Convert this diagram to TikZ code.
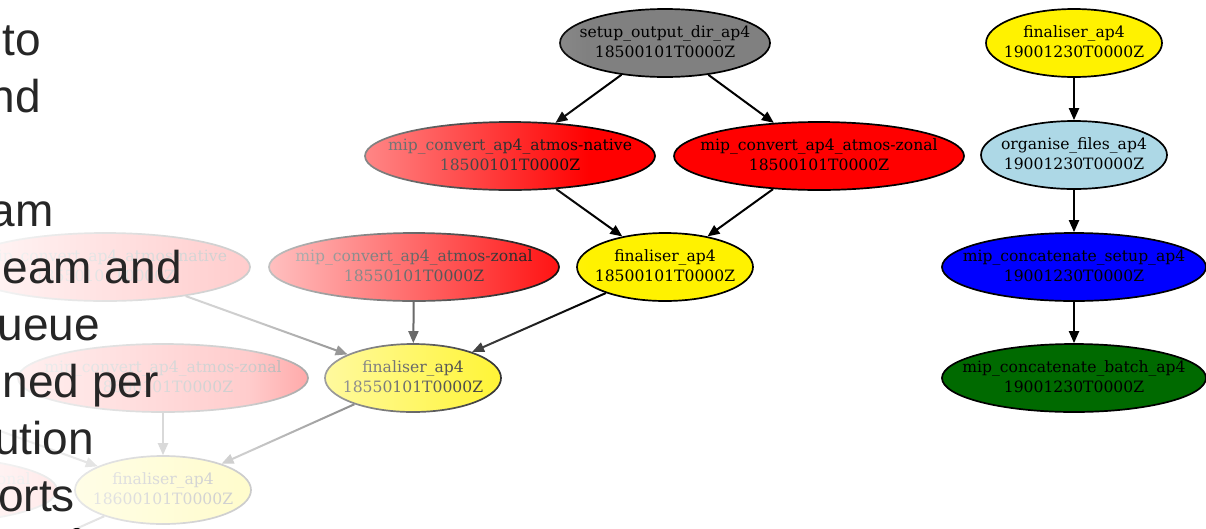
\documentclass[tikz,border=0pt]{standalone}
\usepackage{fontspec}
\setmainfont{DejaVu Serif}
\newfontfamily\slidefont{Liberation Sans}
\usetikzlibrary{arrows.meta,shapes.geometric}
\definecolor{slidetext}{HTML}{262626}
\definecolor{setupgray}{HTML}{808080}
\definecolor{lblue}{HTML}{ADD8E6}
\definecolor{dgreen}{HTML}{006A00}
\newcommand{\tasklabel}[2]{\makebox[0pt]{\begin{tabular}{@{}c@{}}#1\\#2\end{tabular}}}
\begin{document}
\begin{tikzpicture}[x=1pt,y=-1pt,
  task/.style={ellipse, draw=black, line width=1.7pt, inner sep=0pt, minimum height=68pt,
    font=\fontsize{15.6}{20}\selectfont, text=black},
  convbox/.style={task, fill=red, minimum width=290pt},
  finbox/.style={task, fill=yellow, minimum width=176pt},
  conn/.style={draw=black, line width=2pt, -{Triangle[length=12pt,width=10pt]}},
  slide/.style={font=\slidefont\fontsize{46}{46}\selectfont, text=slidetext, anchor=base east, inner sep=0pt}]
\useasboundingbox (0,0) rectangle (1206,528);
% middle graph
\node[task, fill=setupgray, minimum width=210pt] (setup) at (665,43) {\tasklabel{setup\_output\_dir\_ap4}{18500101T0000Z}};
\node[convbox] (nat50) at (510,156) {\tasklabel{mip\_convert\_ap4\_atmos-native}{18500101T0000Z}};
\node[convbox] (zon50) at (819,156) {\tasklabel{mip\_convert\_ap4\_atmos-zonal}{18500101T0000Z}};
\node[finbox] (fin50) at (665,267) {\tasklabel{finaliser\_ap4}{18500101T0000Z}};
\node[convbox] (zon55) at (414,267) {\tasklabel{mip\_convert\_ap4\_atmos-zonal}{18550101T0000Z}};
\node[convbox] (nat55) at (105,267) {\tasklabel{mip\_convert\_ap4\_atmos-native}{18550101T0000Z}};
\node[finbox] (fin55) at (413,378) {\tasklabel{finaliser\_ap4}{18550101T0000Z}};
\node[convbox] (zon60) at (163,378) {\tasklabel{mip\_convert\_ap4\_atmos-zonal}{18600101T0000Z}};
\node[finbox] (fin60) at (163,490) {\tasklabel{finaliser\_ap4}{18600101T0000Z}};
\node[convbox] (zon65) at (-88,490) {\tasklabel{mip\_convert\_ap4\_atmos-zonal}{18650101T0000Z}};
\coordinate (nat60) at (-146,378);
\coordinate (fin65) at (-88,602);
% right column
\node[finbox] (fin00) at (1074,43) {\tasklabel{finaliser\_ap4}{19001230T0000Z}};
\node[task, fill=lblue, minimum width=186pt] (org) at (1074,155) {\tasklabel{organise\_files\_ap4}{19001230T0000Z}};
\node[task, fill=blue, minimum width=264pt] (cset) at (1074,267) {\tasklabel{mip\_concatenate\_setup\_ap4}{19001230T0000Z}};
\node[task, fill=dgreen, minimum width=264pt] (cbat) at (1074,378) {\tasklabel{mip\_concatenate\_batch\_ap4}{19001230T0000Z}};
% connectors
\draw[conn] (setup) -- (nat50);
\draw[conn] (setup) -- (zon50);
\draw[conn] (nat50) -- (fin50);
\draw[conn] (zon50) -- (fin50);
\draw[conn] (fin50) -- (fin55);
\draw[conn] (zon55) -- (fin55);
\draw[conn] (nat55) -- (fin55);
\draw[conn] (fin55) -- (fin60);
\draw[conn] (zon60) -- (fin60);
\draw[conn] (nat60) -- (fin60);
\draw[conn] (fin60) -- (fin65);
\draw[conn] (fin00) -- (org);
\draw[conn] (org) -- (cset);
\draw[conn] (cset) -- (cbat);
% fade to white towards the left
\foreach \x in {0,2,...,588}{
  \pgfmathsetmacro\op{\x<250 ? 0.95-0.15*(\x+1)/250 : 0.8*(589-\x)/340}
  \fill[white, fill opacity=\op] (\x,0) rectangle (\x+2,528);
}
% slide text (cut off at the left edge)
\node[slide] (t1) at (41,55) {to};
\node[slide] (t2) at (41,112) {nd};
\node[slide] (t4) at (54,226) {am};
\node[slide] (t5) at (182,283) {eam and};
\node[slide] (t6) at (100,340) {ueue};
\node[slide] (t7) at (159,397) {ned per};
\node[slide] (t8) at (94,454) {ution};
\node[slide] (t9) at (75,511) {orts};
\end{tikzpicture}
\end{document}
